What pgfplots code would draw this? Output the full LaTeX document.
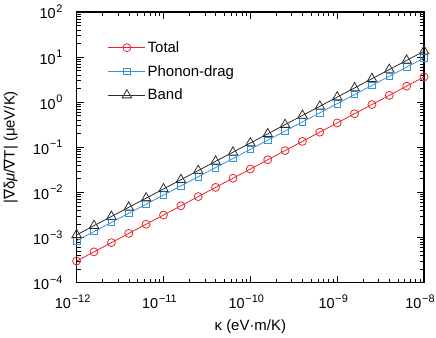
\documentclass[border=0pt]{standalone}
\usepackage{fontspec}
\setmainfont{Liberation Sans}
\newfontfamily\dv{DejaVu Sans}
\usepackage{pgfplots}
\pgfplotsset{compat=1.18}
\definecolor{cred}{RGB}{235,35,40}
\definecolor{cblue}{RGB}{55,145,215}
\definecolor{cblack}{RGB}{45,45,45}
\newcommand{\pw}[1]{10\kern0.8pt\raisebox{6.5pt}{\fontsize{11}{12}\selectfont #1}}

\begin{document}
\begin{tikzpicture}
\begin{loglogaxis}[
    scale only axis,
    width=349pt, height=272pt,
    xmin=1e-12, xmax=1e-8,
    ymin=1e-4, ymax=1e2,
    xtick={1e-12,1e-11,1e-10,1e-9,1e-8},
    xticklabels={\pw{−12},\pw{−11},\pw{−10},\pw{−9},\pw{−8}},
    ytick={1e-4,1e-3,1e-2,1e-1,1,10,100},
    yticklabels={\pw{−4},\pw{−3},\pw{−2},\pw{−1},\pw{0},\pw{1},\pw{2}},
    tick align=inside,
    major tick length=7pt, minor tick length=4pt,
    axis line style={line width=1.2pt},
    every tick/.style={line width=0.8pt, black},
    tick label style={font=\fontsize{14.5}{16}\selectfont},
    xticklabel style={anchor=north, inner sep=0pt, yshift=-12pt, xshift=-4pt},
    yticklabel style={anchor=east, inner sep=0pt, xshift=-14pt},
    xlabel={κ (eV·m/K)},
    ylabel={|{\dv ∇}δ\textit{μ}/{\dv ∇}T| (μeV/K)},
    label style={font=\fontsize{15}{17}\selectfont},
    xlabel style={at={(axis description cs:0.5,0)}, anchor=north, inner sep=0pt, yshift=-37pt},
    ylabel style={at={(axis description cs:0,0.5)}, anchor=south, inner sep=0pt, yshift=59pt},
    legend style={draw=none, fill=none, at={(0.09,0.899)}, anchor=north west,
        font=\fontsize{15}{17}\selectfont, row sep=7.5pt, inner sep=0pt},
    legend cell align=left,
    legend image code/.code={
        \draw[mark repeat=2,mark phase=2] plot coordinates {(0pt,0pt) (18.5pt,0pt) (37pt,0pt)};
    },
]
\addplot[cred, line width=0.8pt, mark=o, mark size=4pt] coordinates {
(1e-12,3.02e-4) (1.585e-12,4.83e-4) (2.512e-12,7.73e-4) (3.981e-12,1.236e-3) (6.310e-12,1.977e-3)
(1e-11,3.16e-3) (1.585e-11,5.06e-3) (2.512e-11,8.09e-3) (3.981e-11,1.294e-2) (6.310e-11,2.07e-2)
(1e-10,3.31e-2) (1.585e-10,5.30e-2) (2.512e-10,8.47e-2) (3.981e-10,0.1355) (6.310e-10,0.217)
(1e-9,0.347) (1.585e-9,0.555) (2.512e-9,0.887) (3.981e-9,1.419) (6.310e-9,2.27)
(1e-8,3.63)};
\addlegendentry{Total}
\addplot[cblue, line width=0.8pt, mark=square, mark size=3.3pt] coordinates {
(1e-12,8.51e-4) (1.585e-12,1.357e-3) (2.512e-12,2.163e-3) (3.981e-12,3.45e-3) (6.310e-12,5.50e-3)
(1e-11,8.76e-3) (1.585e-11,1.396e-2) (2.512e-11,2.226e-2) (3.981e-11,3.55e-2) (6.310e-11,5.66e-2)
(1e-10,9.02e-2) (1.585e-10,0.1437) (2.512e-10,0.229) (3.981e-10,0.365) (6.310e-10,0.582)
(1e-9,0.928) (1.585e-9,1.479) (2.512e-9,2.358) (3.981e-9,3.76) (6.310e-9,5.99)
(1e-8,9.55)};
\addlegendentry{Phonon-drag}
\addplot[cblack, line width=0.8pt, mark=triangle, mark size=5.5pt] coordinates {
(1e-12,1.148e-3) (1.585e-12,1.834e-3) (2.512e-12,2.93e-3) (3.981e-12,4.68e-3) (6.310e-12,7.48e-3)
(1e-11,1.195e-2) (1.585e-11,1.91e-2) (2.512e-11,3.05e-2) (3.981e-11,4.88e-2) (6.310e-11,7.79e-2)
(1e-10,0.1245) (1.585e-10,0.1988) (2.512e-10,0.318) (3.981e-10,0.508) (6.310e-10,0.811)
(1e-9,1.296) (1.585e-9,2.07) (2.512e-9,3.31) (3.981e-9,5.28) (6.310e-9,8.44)
(1e-8,13.49)};
\addlegendentry{Band}
\end{loglogaxis}
% pin the page to the reference margins
\path (current axis.north west) ++(-77pt,12pt);
\path (current axis.south east) ++(12pt,-55pt);
\end{tikzpicture}
\end{document}
